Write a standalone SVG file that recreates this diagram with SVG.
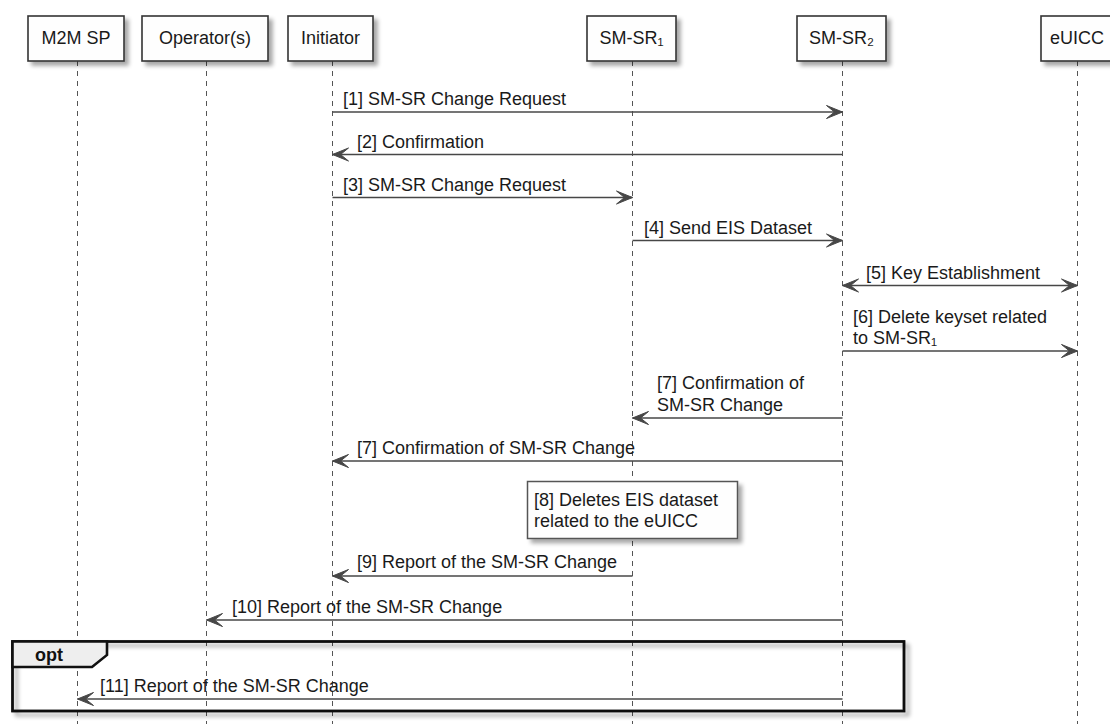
<svg xmlns="http://www.w3.org/2000/svg" width="1110" height="724" viewBox="0 0 1110 724">
<style>
.pbox{fill:#fefefe;stroke:#333;stroke-width:1.6}
.ptxt{font-family:"Liberation Sans",Arial,sans-serif;font-size:18px;fill:#1a1a1a;text-anchor:middle}
.life{stroke:#555;stroke-width:1;stroke-dasharray:5,5;fill:none}
.msg{stroke:#474747;stroke-width:1.5;fill:none}
.lbl{font-family:"Liberation Sans",Arial,sans-serif;font-size:18px;fill:#1a1a1a}
.note{fill:#fefefe;stroke:#555;stroke-width:1.5}
.frame{fill:none;stroke:#111;stroke-width:2.8}
.tab{fill:#eeeeee;stroke:#111;stroke-width:2.6}
.optl{font-family:"Liberation Sans",Arial,sans-serif;font-size:18px;font-weight:bold;fill:#111}
</style>
<defs>
<filter id="sh" x="-20%" y="-20%" width="150%" height="160%">
<feGaussianBlur in="SourceAlpha" stdDeviation="2"/>
<feOffset dx="4" dy="4" result="o"/>
<feComponentTransfer><feFuncA type="linear" slope="0.35"/></feComponentTransfer>
<feMerge><feMergeNode/><feMergeNode in="SourceGraphic"/></feMerge>
</filter>
<marker id="ah" viewBox="-1 -1 18 16" refX="16" refY="7" markerWidth="18" markerHeight="16" markerUnits="userSpaceOnUse" orient="auto-start-reverse">
<polygon points="0,0.5 16,7 0,13.5 8,7" fill="#474747" stroke="#474747" stroke-width="1" stroke-linejoin="miter"/>
</marker>
</defs>
<rect width="1110" height="724" fill="#ffffff"/>

<g id="lifelines">
<line class="life" x1="77.5" y1="61" x2="77.5" y2="724"/>
<line class="life" x1="206.5" y1="61" x2="206.5" y2="724"/>
<line class="life" x1="332.5" y1="61" x2="332.5" y2="724"/>
<line class="life" x1="632.5" y1="61" x2="632.5" y2="724"/>
<line class="life" x1="842.5" y1="61" x2="842.5" y2="724"/>
<line class="life" x1="1077.5" y1="61" x2="1077.5" y2="724"/>
</g>

<g id="p-m2msp"><rect class="pbox" x="28" y="16" width="96" height="45" filter="url(#sh)"/><text class="ptxt" x="76" y="44">M2M SP</text></g>
<g id="p-operators"><rect class="pbox" x="142" y="16" width="126" height="45" filter="url(#sh)"/><text class="ptxt" x="205" y="44">Operator(s)</text></g>
<g id="p-initiator"><rect class="pbox" x="288" y="16" width="85" height="45" filter="url(#sh)"/><text class="ptxt" x="330.5" y="44">Initiator</text></g>
<g id="p-smsr1"><rect class="pbox" x="587" y="16" width="89" height="45" filter="url(#sh)"/><text class="ptxt" x="631.5" y="44">SM-SR₁</text></g>
<g id="p-smsr2"><rect class="pbox" x="797" y="16" width="89" height="45" filter="url(#sh)"/><text class="ptxt" x="841.5" y="44">SM-SR₂</text></g>
<g id="p-euicc"><rect class="pbox" x="1041" y="16" width="72" height="45" filter="url(#sh)"/><text class="ptxt" x="1077" y="44">eUICC</text></g>

<g id="opt-frame">
<rect class="frame" x="12.5" y="641.5" width="891.5" height="69.5" filter="url(#sh)"/>
<path class="tab" d="M12.5,641.5 H107 V655 L92,667 H12.5 Z"/>
<text class="optl" x="35" y="661">opt</text>
</g>

<g id="note-8">
<rect class="note" x="527.5" y="481.5" width="210" height="57" filter="url(#sh)"/>
<text class="lbl" x="534" y="506">[8] Deletes EIS dataset</text>
<text class="lbl" x="534" y="527">related to the eUICC</text>
</g>

<g id="connectors">
<line class="msg" x1="332.5" y1="112" x2="842.5" y2="112" marker-end="url(#ah)"/>
<line class="msg" x1="842.5" y1="154.5" x2="332.5" y2="154.5" marker-end="url(#ah)"/>
<line class="msg" x1="332.5" y1="197.5" x2="632.5" y2="197.5" marker-end="url(#ah)"/>
<line class="msg" x1="632.5" y1="240.5" x2="842.5" y2="240.5" marker-end="url(#ah)"/>
<line class="msg" x1="842.5" y1="285.5" x2="1077.5" y2="285.5" marker-start="url(#ah)" marker-end="url(#ah)"/>
<line class="msg" x1="842.5" y1="351" x2="1077.5" y2="351" marker-end="url(#ah)"/>
<line class="msg" x1="842.5" y1="418" x2="632.5" y2="418" marker-end="url(#ah)"/>
<line class="msg" x1="842.5" y1="461" x2="332.5" y2="461" marker-end="url(#ah)"/>
<line class="msg" x1="632.5" y1="576" x2="332.5" y2="576" marker-end="url(#ah)"/>
<line class="msg" x1="842.5" y1="620" x2="206.5" y2="620" marker-end="url(#ah)"/>
<line class="msg" x1="842.5" y1="699" x2="77.5" y2="699" marker-end="url(#ah)"/>
</g>

<g id="labels">
<text class="lbl" x="343" y="105">[1] SM-SR Change Request</text>
<text class="lbl" x="357" y="148">[2] Confirmation</text>
<text class="lbl" x="343" y="191">[3] SM-SR Change Request</text>
<text class="lbl" x="644" y="234">[4] Send EIS Dataset</text>
<text class="lbl" x="866" y="279">[5] Key Establishment</text>
<text class="lbl" x="853" y="323">[6] Delete keyset related</text>
<text class="lbl" x="853" y="344">to SM-SR₁</text>
<text class="lbl" x="657" y="389">[7] Confirmation of</text>
<text class="lbl" x="657" y="411">SM-SR Change</text>
<text class="lbl" x="357" y="454">[7] Confirmation of SM-SR Change</text>
<text class="lbl" x="357" y="568">[9] Report of the SM-SR Change</text>
<text class="lbl" x="232" y="613">[10] Report of the SM-SR Change</text>
<text class="lbl" x="100" y="692">[11] Report of the SM-SR Change</text>
</g>
</svg>
